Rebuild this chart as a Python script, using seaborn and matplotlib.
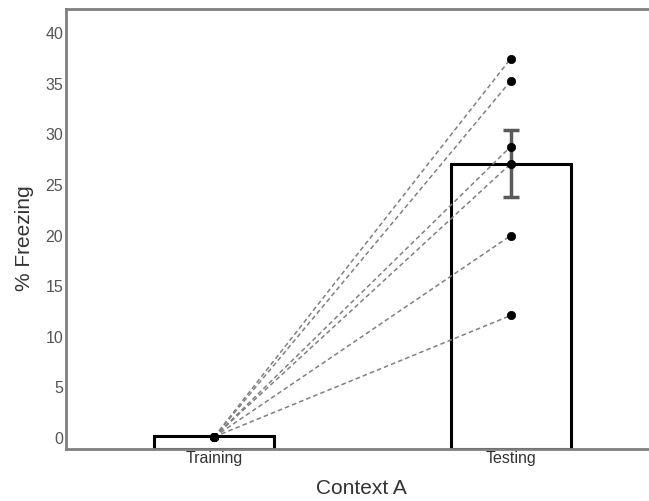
import matplotlib
matplotlib.use("Agg")
import matplotlib.pyplot as plt
import seaborn as sns
import pandas as pd
import numpy as np

categories = ["Training", "Testing"]
bar_means = [0.1, 27.0]
test_err_low = 23.7
test_err_high = 30.3
training_points = [0.0, 0.0, 0.0, 0.0, 0.0, 0.0]
testing_points = [37.4, 35.2, 28.7, 27.0, 19.9, 12.0]

sns.set_style("white")
plt.rcParams['font.family'] = ['Liberation Sans', 'DejaVu Sans']

W, H = 649, 502
fig = plt.figure(figsize=(W/100, H/100), dpi=100)
ax = fig.add_axes([66/W, 1-450/H, 593/W, (450-10)/H])

ymin, ymax = -1.2, 42.3
df = pd.DataFrame({"phase": categories, "freezing": bar_means})
sns.barplot(data=df, x="phase", y="freezing", ax=ax, color="white",
            edgecolor="black", linewidth=2.2, width=0.405, errorbar=None, zorder=1)
for p in ax.patches:
    h = p.get_height()
    p.set_y(ymin)
    p.set_height(h - ymin)

# error bar on testing
ax.errorbar([1], [bar_means[1]],
            yerr=[[bar_means[1] - test_err_low], [test_err_high - bar_means[1]]],
            fmt="none", ecolor="#5a5a5a", elinewidth=2.5, capsize=6, capthick=2.5, zorder=4)

# subject lines
for a, b in zip(training_points, testing_points):
    ax.plot([0, 1], [a, b], linestyle=(0, (3, 2)), color="#808080", linewidth=1.1, zorder=2)

pts = pd.DataFrame({"x": [0]*len(training_points) + [1]*len(testing_points),
                    "y": training_points + testing_points})
sns.scatterplot(data=pts, x="x", y="y", ax=ax, color="black", s=36,
                edgecolor="black", linewidth=0.5, zorder=5, legend=False)

ax.set_xlim(-0.5, 1.5)
ax.set_ylim(ymin, ymax)
ax.set_xticks([0, 1])
ax.set_xticklabels(categories)
ax.set_yticks(np.arange(0, 41, 5))
ax.tick_params(axis="y", direction="in", length=3, width=1.5, color="black",
               labelsize=11.5, labelcolor="#555555", pad=2)
ax.tick_params(axis="x", length=0, labelsize=11.5, labelcolor="#333333", pad=1)
ax.set_xlabel("")
ax.set_ylabel("")
fig.text(361.5/W, 1-489/H, "Context A", fontsize=15, color="#333333",
         ha="center", va="center")
fig.text(25/W, 1-238/H, "% Freezing", fontsize=15, color="#333333",
         ha="center", va="center", rotation=90)

for s in ["left", "bottom", "top"]:
    ax.spines[s].set_visible(True)
    ax.spines[s].set_color("#808080")
    ax.spines[s].set_linewidth(2.0)
ax.spines["right"].set_visible(False)

fig.savefig("out.png", dpi=100)
